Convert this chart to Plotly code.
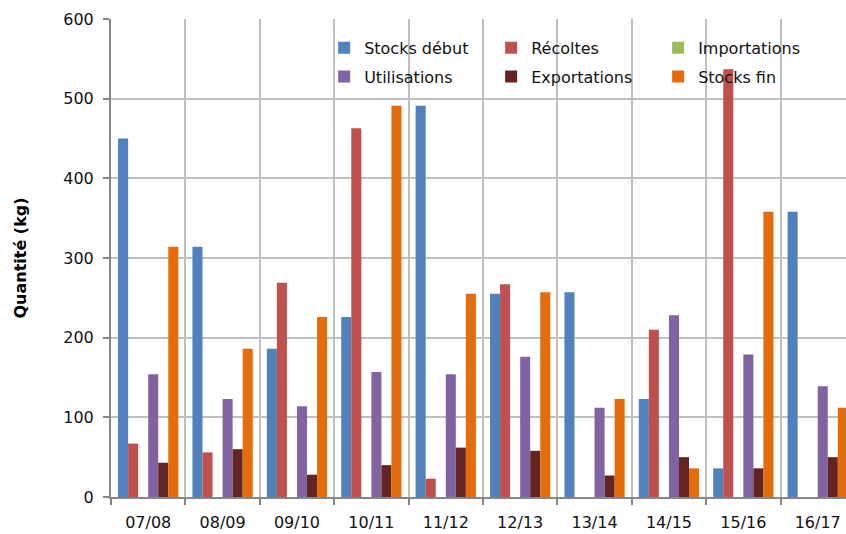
import plotly.graph_objects as go

categories = ["07/08", "08/09", "09/10", "10/11", "11/12", "12/13", "13/14", "14/15", "15/16", "16/17"]
stocks_debut = [450, 314, 186, 226, 491, 255, 257, 123, 36, 358]
recoltes = [67, 56, 269, 463, 23, 267, 0, 210, 537, 0]
importations = [0, 0, 0, 0, 0, 0, 0, 0, 0, 0]
utilisations = [154, 123, 114, 157, 154, 176, 112, 228, 179, 139]
exportations = [43, 60, 28, 40, 62, 58, 27, 50, 36, 50]
stocks_fin = [314, 186, 226, 491, 255, 257, 123, 36, 358, 112]

series = [
    ("Stocks début", stocks_debut, "#4f81bd", "legend"),
    ("Récoltes", recoltes, "#c0504d", "legend"),
    ("Importations", importations, "#9bbb59", "legend"),
    ("Utilisations", utilisations, "#8064a2", "legend2"),
    ("Exportations", exportations, "#632523", "legend2"),
    ("Stocks fin", stocks_fin, "#e46c0a", "legend2"),
]

FONT = "DejaVu Sans"
TXT = "#111111"
fig = go.Figure()
for name, vals, col, lg in series:
    fig.add_trace(go.Bar(x=categories, y=vals, name=name, marker_color=col,
                         marker_line_width=0, legend=lg))

leg_common = dict(orientation="h", xanchor="left", yanchor="top",
                  entrywidth=122, entrywidthmode="pixels",
                  bgcolor="rgba(0,0,0,0)", font=dict(size=16, family=FONT, color=TXT),
                  itemwidth=30)
fig.update_layout(
    width=846, height=534,
    margin=dict(l=111, r=0, t=19, b=37, pad=0),
    paper_bgcolor="white", plot_bgcolor="white",
    barmode="group", bargap=0.19, bargroupgap=0,
    font=dict(family=FONT, size=16, color=TXT),
    showlegend=True,
    legend=dict(x=0.29, y=0.975, **leg_common),
    legend2=dict(x=0.29, y=0.915, **leg_common),
)
fig.update_xaxes(
    range=[-0.5, 9.38], tickson="boundaries", showgrid=True, gridcolor="#bfbfbf", gridwidth=2,
    showline=True, linecolor="#868686", linewidth=2,
    ticks="outside", ticklen=6, tickcolor="#868686", tickwidth=2,
    ticklabelstandoff=10,
    tickfont=dict(size=16, family=FONT, color=TXT),
)
fig.update_yaxes(
    range=[0, 600], dtick=100, showgrid=True, gridcolor="#bfbfbf", gridwidth=2,
    showline=True, linecolor="#868686", linewidth=2, zeroline=False,
    ticks="outside", ticklen=6, tickcolor="#868686", tickwidth=2,
    ticklabelstandoff=6,
    tickfont=dict(size=16, family=FONT, color=TXT),
    title=dict(text="<b>Quantité (kg)</b>", font=dict(size=16, family=FONT, color="#000000"), standoff=33),
)
fig.write_html("out.html", config={"displayModeBar": False},
               post_script="document.body.style.margin='0';document.body.style.overflow='hidden';")
